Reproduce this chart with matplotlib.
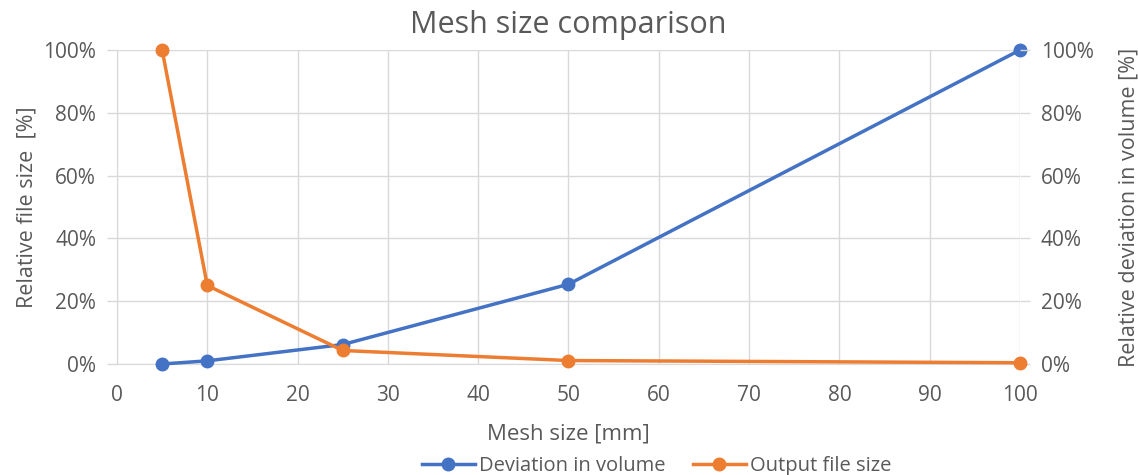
import matplotlib.pyplot as plt
from matplotlib.ticker import PercentFormatter

# data
mesh_size = [5, 10, 25, 50, 100]
deviation = [0.0, 0.01, 0.062, 0.254, 1.0]
file_size = [1.0, 0.25, 0.043, 0.011, 0.004]

blue = '#4472C4'
orange = '#ED7D31'
grey = '#595959'
grid = '#D9D9D9'

plt.rcParams['font.family'] = ['Open Sans', 'DejaVu Sans']

fig = plt.figure(figsize=(11.38, 4.75), dpi=100)
ax = fig.add_axes([0.1028, 0.2337, 0.7935, 0.661])
ax2 = ax.twinx()

ax.plot(mesh_size, deviation, color=blue, lw=2.5, marker='o', ms=9,
        label='Deviation in volume', zorder=3, clip_on=False)
ax2.plot(mesh_size, file_size, color=orange, lw=2.5, marker='o', ms=9,
         label='Output file size', zorder=3, clip_on=False)

for a in (ax, ax2):
    a.set_xlim(0, 100)
    a.set_ylim(0, 1.0)
    a.yaxis.set_major_formatter(PercentFormatter(1.0, decimals=0))
    a.set_yticks([0, 0.2, 0.4, 0.6, 0.8, 1.0])
    a.tick_params(axis='y', colors=grid, labelcolor=grey, labelsize=15,
                  length=7, width=1, pad=8)
    for s in a.spines.values():
        s.set_visible(False)

ax.set_xticks(range(0, 101, 10))
ax.tick_params(axis='x', length=0, labelcolor=grey, labelsize=15, pad=15)
ax.grid(True, color=grid, lw=1)
ax.set_axisbelow(True)
ax.spines['left'].set_visible(True)
ax.spines['left'].set_color(grid)
ax.spines['bottom'].set_visible(True)
ax.spines['bottom'].set_color(grid)

ax.set_xlabel('Mesh size [mm]', color=grey, fontsize=16, labelpad=13)
ax.set_ylabel('Relative file size  [%]', color=grey, fontsize=15.5, labelpad=4)
ax2.set_ylabel('Relative deviation in volume [%]', color=grey, fontsize=15.5, labelpad=18)
ax.set_title('Mesh size comparison', color=grey, fontsize=22, pad=12)

h1, l1 = ax.get_legend_handles_labels()
h2, l2 = ax2.get_legend_handles_labels()
fig.legend(h1 + h2, l1 + l2, loc='lower center', bbox_to_anchor=(0.577, -0.04),
           ncol=2, frameon=False, fontsize=14.5, labelcolor=grey,
           handlelength=2.6, columnspacing=1.4, handletextpad=0.2)

fig.savefig('out.png', dpi=100)
